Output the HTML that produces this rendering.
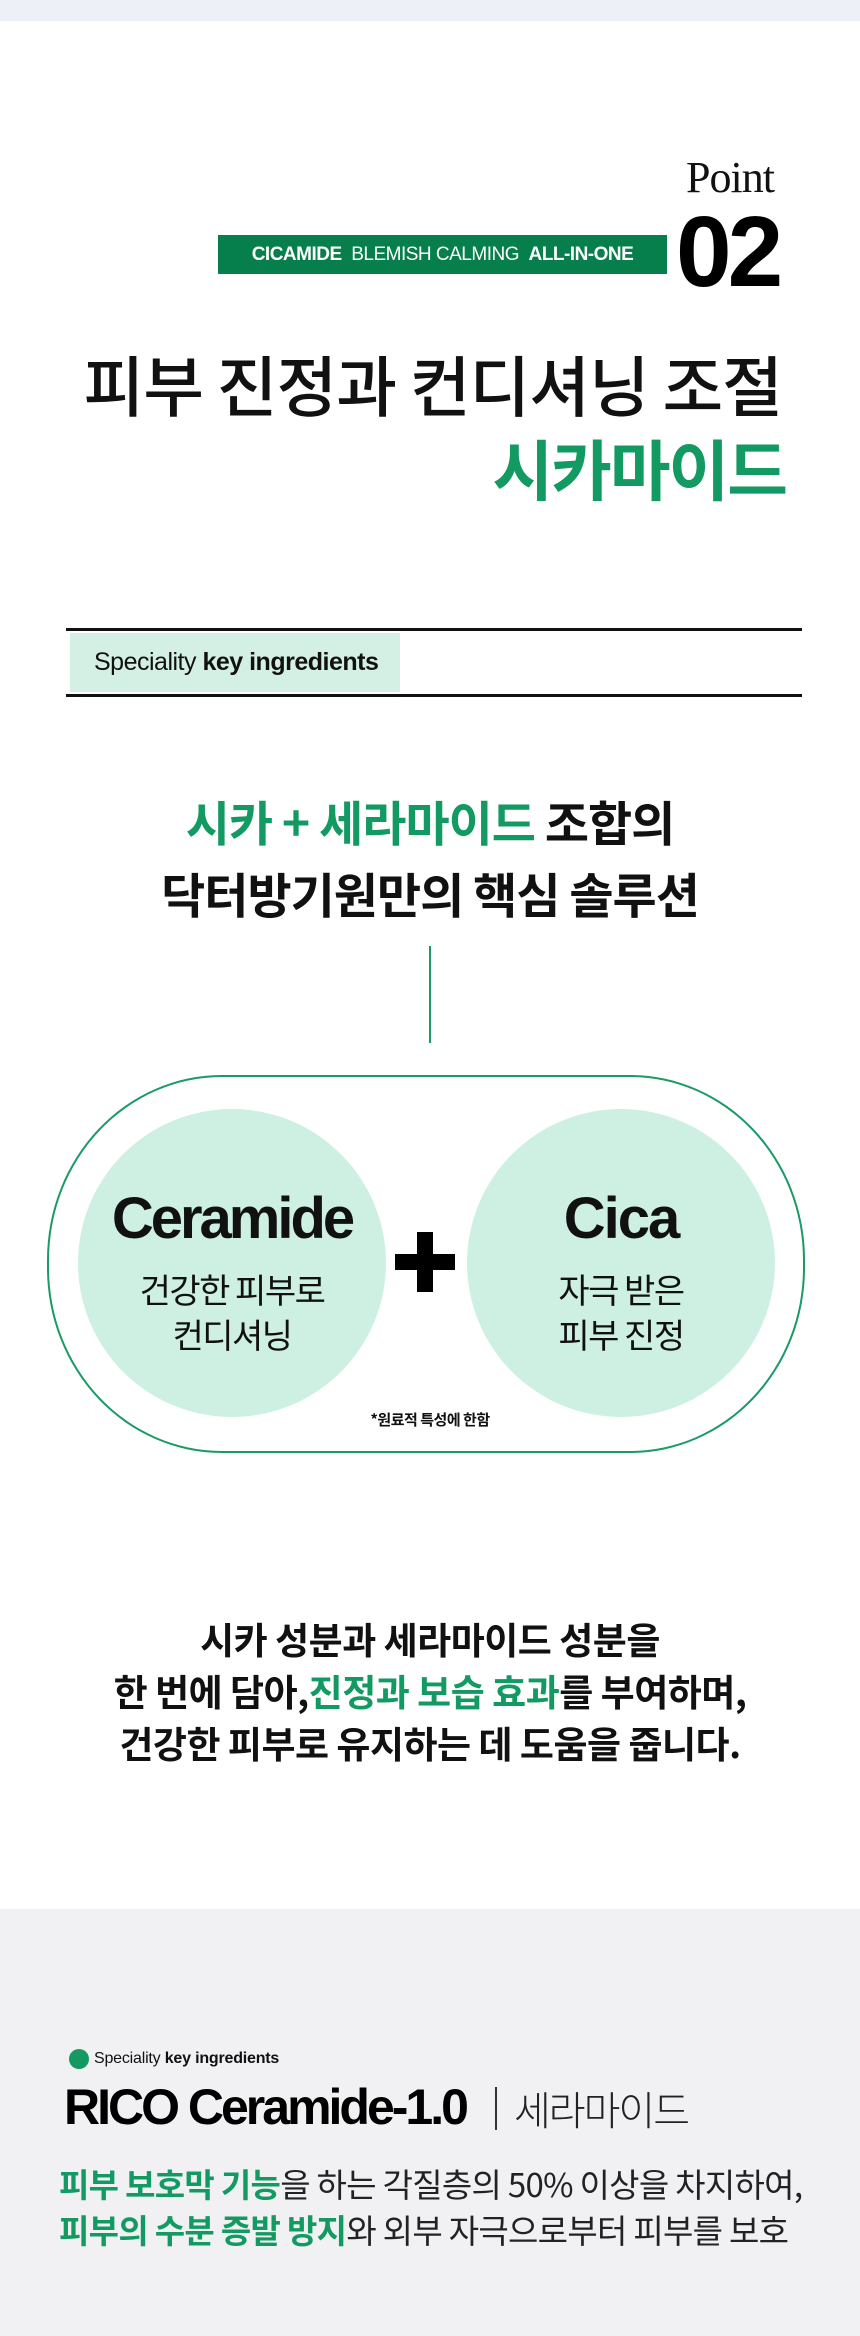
<!DOCTYPE html>
<html><head><meta charset="utf-8">
<style>
*{margin:0;padding:0;box-sizing:border-box}
body{width:860px;height:2336px;position:relative;background:#fff;font-family:"Liberation Sans","Noto Sans CJK KR",sans-serif;overflow:hidden;color:#111}
.a{position:absolute;white-space:nowrap}
.g{color:#129a62}
</style></head><body>
<div class="a" style="left:0;top:0;width:860px;height:21px;background:#eef0f8"></div>

<div class="a" style="left:686px;top:154px;font-family:'Liberation Serif',serif;font-size:44px;line-height:48px;color:#111;letter-spacing:-1px">Point</div>
<div class="a" style="left:218px;top:235px;width:449px;height:39px;background:#077f4c;color:#fff;font-size:19px;line-height:39px;text-align:center;letter-spacing:-0.5px"><b>CICAMIDE</b>&nbsp; BLEMISH CALMING &nbsp;<b>ALL-IN-ONE</b></div>
<div class="a" style="left:676px;top:204px;font-size:100px;line-height:96px;font-weight:bold;letter-spacing:-4px;color:#000">02</div>

<div class="a" style="right:78px;top:340px;font-size:66px;line-height:86px;font-weight:500;letter-spacing:-1px;font-family:'Noto Sans CJK KR',sans-serif">피부 진정과 컨디셔닝 조절</div>
<div class="a g" style="right:74px;top:424px;font-size:66px;line-height:86px;font-weight:bold;letter-spacing:-2px;font-family:'Noto Sans CJK KR',sans-serif">시카마이드</div>

<div class="a" style="left:66px;top:628px;width:736px;height:3px;background:#111"></div>
<div class="a" style="left:70px;top:633px;width:330px;height:59px;background:#d4f0e4;font-size:25px;line-height:59px;padding-left:24px;letter-spacing:-0.5px">Speciality <b>key ingredients</b></div>
<div class="a" style="left:66px;top:694px;width:736px;height:3px;background:#111"></div>

<div class="a" style="left:0;width:860px;top:784px;text-align:center;font-size:48px;line-height:72px;font-weight:bold;letter-spacing:-1px;font-family:'Noto Sans CJK KR',sans-serif"><span class="g">시카 + 세라마이드</span> 조합의<br>닥터방기원만의 핵심 솔루션</div>

<div class="a" style="left:429px;top:946px;width:1.5px;height:97px;background:#1a9a66"></div>

<div class="a" style="left:47px;top:1075px;width:758px;height:378px;border:2px solid #1a9a66;border-radius:175px/185px"></div>
<div class="a" style="left:78px;top:1109px;width:308px;height:308px;border-radius:50%;background:#cdf0e2"></div>
<div class="a" style="left:467px;top:1109px;width:308px;height:308px;border-radius:50%;background:#cdf0e2"></div>
<div class="a" style="left:78px;width:308px;top:1186px;text-align:center;font-size:58px;line-height:66px;font-weight:bold;letter-spacing:-3px">Ceramide</div>
<div class="a" style="left:467px;width:308px;top:1186px;text-align:center;font-size:58px;line-height:66px;font-weight:bold;letter-spacing:-2px">Cica</div>
<div class="a" style="left:78px;width:308px;top:1266px;text-align:center;font-size:34px;line-height:45px;letter-spacing:-1.5px;font-family:'Noto Sans CJK KR',sans-serif">건강한 피부로<br>컨디셔닝</div>
<div class="a" style="left:467px;width:308px;top:1266px;text-align:center;font-size:34px;line-height:45px;letter-spacing:-1.5px;font-family:'Noto Sans CJK KR',sans-serif">자극 받은<br>피부 진정</div>
<div class="a" style="left:395px;top:1254px;width:60px;height:16px;background:#000"></div>
<div class="a" style="left:417px;top:1232px;width:16px;height:60px;background:#000"></div>
<div class="a" style="left:0;width:860px;top:1408px;text-align:center;font-size:15px;line-height:24px;font-weight:bold;letter-spacing:-0.5px;font-family:'Noto Sans CJK KR',sans-serif">*원료적 특성에 한함</div>

<div class="a" style="left:0;width:860px;top:1612px;text-align:center;font-size:37px;line-height:52px;font-weight:bold;letter-spacing:-0.5px;font-family:'Noto Sans CJK KR',sans-serif">시카 성분과 세라마이드 성분을<br>한 번에 담아,<span class="g">진정과 보습 효과</span>를 부여하며,<br>건강한 피부로 유지하는 데 도움을 줍니다.</div>

<div class="a" style="left:0;top:1909px;width:860px;height:427px;background:#f1f1f4"></div>
<div class="a" style="left:69px;top:2049px;width:20px;height:20px;border-radius:50%;background:#129a62"></div>
<div class="a" style="left:94px;top:2047px;font-size:16px;line-height:24px;letter-spacing:-0.2px">Speciality <b>key ingredients</b></div>
<div class="a" style="left:64px;top:2078px;font-size:50px;line-height:58px;font-weight:bold;letter-spacing:-3px;color:#000">RICO Ceramide-1.0</div>
<div class="a" style="left:495px;top:2087px;width:1.5px;height:43px;background:#333"></div>
<div class="a" style="left:514px;top:2080px;font-size:40px;line-height:56px;font-weight:300;letter-spacing:-2px;color:#222;font-family:'Noto Sans CJK KR',sans-serif">세라마이드</div>
<div class="a" style="left:59px;top:2160px;font-size:33px;line-height:46px;letter-spacing:-0.7px;color:#222;font-family:'Noto Sans CJK KR',sans-serif"><b class="g">피부 보호막 기능</b>을 하는 각질층의 50% 이상을 차지하여,<br><b class="g">피부의 수분 증발 방지</b>와 외부 자극으로부터 피부를 보호</div>
</body></html>
